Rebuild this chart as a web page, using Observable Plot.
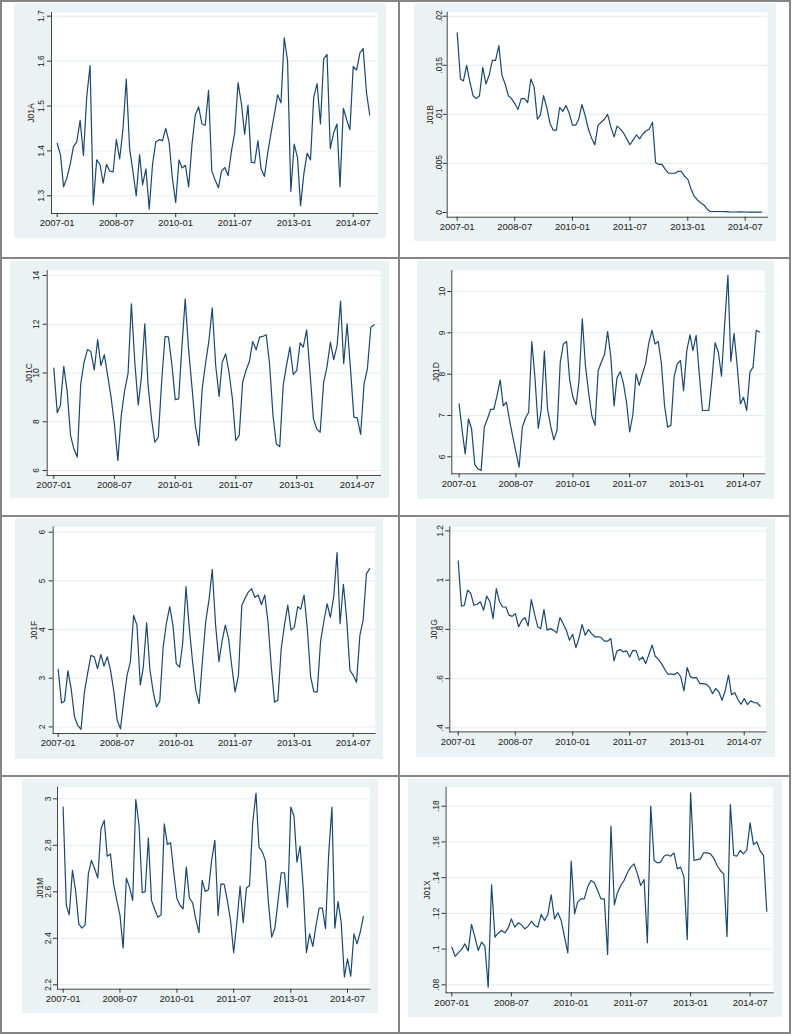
<!DOCTYPE html>
<html><head><meta charset="utf-8">
<script src="https://cdn.jsdelivr.net/npm/d3@7"></script>
<script src="https://cdn.jsdelivr.net/npm/@observablehq/plot@0.6"></script>
<style>
body{margin:0;background:#fff;}
#page{position:relative;width:792px;height:1034px;overflow:hidden;background:#fff;font-family:"Liberation Sans",Arial,sans-serif;}
.panel{position:absolute;}
.panel svg{display:block;}
.vline{position:absolute;top:0;height:1034px;width:2px;background:#858585;}
.hline{position:absolute;left:0;width:791px;height:2px;background:#858585;}
</style></head><body><div id="page"></div>
<script>
// ---- categories ----
const startMonth = new Date(Date.UTC(2007, 0, 1));
const endMonth = new Date(Date.UTC(2015, 0, 1));
const months = d3.utcMonth.range(startMonth, endMonth); // 2007-01 .. 2014-12
const xTickLabels = ["2007-01", "2008-07", "2010-01", "2011-07", "2013-01", "2014-07"];

// ---- series values ----
const J01A = [1.417,1.39,1.32,1.34,1.37,1.41,1.42,1.468,1.39,1.52,1.59,1.28,
1.38,1.37,1.328,1.37,1.355,1.353,1.425,1.382,1.45,1.56,1.405,1.355,
1.30,1.392,1.325,1.36,1.27,1.37,1.42,1.425,1.423,1.45,1.42,1.34,
1.285,1.38,1.362,1.368,1.32,1.415,1.48,1.498,1.46,1.457,1.535,1.355,
1.335,1.318,1.355,1.363,1.345,1.40,1.44,1.552,1.505,1.437,1.502,1.375,
1.373,1.423,1.36,1.343,1.395,1.44,1.48,1.525,1.507,1.652,1.60,1.31,
1.415,1.385,1.278,1.35,1.395,1.38,1.52,1.55,1.46,1.605,1.615,1.405,
1.44,1.46,1.32,1.495,1.47,1.447,1.588,1.58,1.618,1.628,1.53,1.48];

const J01B = [.0183,.0136,.0134,.0150,.0133,.0119,.0116,.0119,.0148,.0131,.0140,.0155,
.0155,.0170,.0140,.0131,.0119,.0116,.0111,.0105,.0116,.0116,.0112,.0136,
.0128,.0095,.0099,.0119,.0107,.0091,.0084,.0084,.0107,.0103,.0109,.0101,
.0089,.0089,.0095,.0110,.0099,.0085,.0076,.0069,.0089,.0092,.0095,.0100,
.0087,.0077,.0088,.0085,.0081,.0075,.0069,.0074,.0079,.0075,.0080,.0083,
.0085,.0092,.0051,.0049,.0049,.0044,.0040,.0040,.0040,.0042,.0042,.0037,
.0034,.0024,.0017,.0013,.0010,.0008,.0004,.0001,.0001,.0001,.0001,.0001,
.00008,.00006,.00005,.00005,.00006,.00007,.00005,.00004,.00004,.00003,.00003,.00003];

const J01C = [10.2,8.37,8.67,10.27,9.28,7.44,6.89,6.55,9.56,10.44,10.96,10.88,
10.13,11.37,10.31,10.75,9.9,9.0,7.9,6.41,8.26,9.28,9.97,12.84,
10.44,8.69,9.79,12.02,9.49,8.12,7.16,7.37,9.69,11.5,11.47,10.38,
8.91,8.94,11.0,13.04,10.99,9.42,7.85,7.03,9.35,10.38,11.33,12.67,
10.31,9.04,10.44,10.79,10.03,8.94,7.23,7.44,9.62,10.1,10.47,11.29,
10.95,11.47,11.5,11.57,10.38,8.26,7.09,6.98,9.49,10.31,11.06,9.94,
10.1,11.24,11.06,11.77,10.03,8.12,7.71,7.57,9.62,10.24,11.26,10.55,
11.13,12.95,10.38,12.02,10.2,8.19,8.16,7.48,9.56,10.17,11.88,11.98];

const J01D = [7.28,6.6,6.07,6.92,6.68,5.81,5.71,5.67,6.72,6.92,7.15,7.15,
7.48,7.86,7.23,7.32,6.88,6.48,6.11,5.75,6.72,6.94,7.08,8.79,
7.89,6.69,7.12,8.56,7.16,6.74,6.41,6.64,8.29,8.73,8.79,7.85,
7.44,7.26,7.85,9.34,8.21,7.56,7.0,6.76,8.09,8.29,8.48,9.03,
8.41,7.23,7.91,8.06,7.79,7.32,6.6,7.02,8.01,7.73,8.01,8.25,
8.75,9.06,8.73,8.79,8.27,7.24,6.72,6.76,7.93,8.25,8.33,7.6,
8.57,8.95,8.57,8.94,8.01,7.12,7.12,7.12,7.9,8.76,8.53,7.95,
9.22,10.39,8.31,8.98,8.21,7.28,7.44,7.12,8.05,8.17,9.06,9.02];

const J01F = [3.18,2.49,2.53,3.15,2.79,2.21,2.03,1.95,2.71,3.1,3.47,3.44,
3.2,3.49,3.25,3.44,3.16,2.72,2.14,1.96,2.55,3.06,3.34,4.29,
4.09,2.86,3.23,4.14,3.18,2.72,2.41,2.53,3.64,4.12,4.47,4.09,
3.3,3.23,3.71,4.88,4.05,3.34,2.75,2.48,3.37,4.16,4.62,5.23,
4.09,3.34,3.75,4.09,3.82,3.23,2.72,3.06,4.5,4.64,4.77,4.84,
4.66,4.71,4.51,4.71,4.16,3.23,2.51,2.55,3.61,4.09,4.5,3.99,
4.05,4.47,4.42,4.71,4.02,3.03,2.72,2.72,3.75,4.16,4.53,4.25,
4.67,5.58,4.12,4.93,4.23,3.16,3.06,2.92,3.88,4.19,5.15,5.25];

const J01G = [1.078,0.894,0.898,0.959,0.946,0.898,0.902,0.912,0.878,0.935,0.912,0.844,
0.966,0.912,0.891,0.891,0.858,0.853,0.864,0.81,0.837,0.848,0.814,0.921,
0.862,0.81,0.803,0.881,0.797,0.803,0.797,0.786,0.848,0.824,0.797,0.756,
0.78,0.726,0.763,0.82,0.776,0.799,0.783,0.77,0.77,0.767,0.752,0.752,
0.763,0.672,0.713,0.718,0.709,0.713,0.688,0.715,0.713,0.675,0.688,0.661,
0.699,0.736,0.691,0.678,0.661,0.637,0.618,0.618,0.617,0.625,0.607,0.55,
0.645,0.607,0.603,0.604,0.58,0.58,0.577,0.566,0.539,0.56,0.546,0.512,
0.553,0.614,0.535,0.543,0.516,0.496,0.519,0.495,0.51,0.503,0.502,0.488];

const J01M = [2.964,2.541,2.501,2.692,2.606,2.462,2.444,2.458,2.677,2.735,2.699,2.659,
2.871,2.907,2.753,2.763,2.634,2.563,2.501,2.358,2.659,2.62,2.563,2.997,
2.885,2.596,2.601,2.831,2.563,2.524,2.491,2.501,2.892,2.804,2.811,2.685,
2.57,2.541,2.527,2.706,2.573,2.553,2.484,2.424,2.649,2.601,2.61,2.735,
2.821,2.498,2.634,2.632,2.563,2.477,2.338,2.47,2.624,2.467,2.616,2.627,
2.9,3.024,2.792,2.773,2.735,2.548,2.405,2.444,2.563,2.682,2.682,2.534,
2.964,2.925,2.728,2.796,2.613,2.338,2.419,2.365,2.455,2.53,2.53,2.441,
2.763,2.964,2.444,2.558,2.47,2.233,2.312,2.237,2.419,2.376,2.427,2.494];

const J01X = [.1011,.0960,.0979,.0998,.1029,.0990,.1138,.1067,.0992,.1039,.1016,.0787,
.1360,.1067,.1089,.1104,.1091,.1117,.1169,.1123,.1147,.1136,.1113,.1128,
.1156,.1132,.1123,.1194,.1160,.1194,.1304,.1169,.1203,.1160,.1067,.0979,
.1492,.1197,.1263,.1281,.1281,.1347,.1384,.1371,.1328,.1281,.1281,.0970,
.1688,.1248,.1315,.1356,.1384,.1427,.1459,.1477,.1421,.1356,.1390,.1035,
.1800,.1496,.1483,.1487,.1520,.1528,.1520,.1539,.1449,.1459,.1403,.1054,
.1875,.1496,.1501,.1505,.1539,.1539,.1533,.1510,.1468,.1440,.1420,.1070,
.1809,.1524,.1520,.1552,.1533,.1555,.1707,.1585,.1600,.1550,.1525,.1212];

// ---- y tick values and labels ----
const ticksJ01A = [1.3,1.4,1.5,1.6,1.7];        const labelsJ01A = ["1.3","1.4","1.5","1.6","1.7"];
const ticksJ01B = [0,.005,.01,.015,.02];         const labelsJ01B = ["0",".005",".01",".015",".02"];
const ticksJ01C = [6,8,10,12,14];                const labelsJ01C = ["6","8","10","12","14"];
const ticksJ01D = [6,7,8,9,10];                  const labelsJ01D = ["6","7","8","9","10"];
const ticksJ01F = [2,3,4,5,6];                   const labelsJ01F = ["2","3","4","5","6"];
const ticksJ01G = [.4,.6,.8,1,1.2];              const labelsJ01G = [".4",".6",".8","1","1.2"];
const ticksJ01M = [2.2,2.4,2.6,2.8,3];           const labelsJ01M = ["2.2","2.4","2.6","2.8","3"];
const ticksJ01X = [.08,.1,.12,.14,.16,.18];      const labelsJ01X = [".08",".1",".12",".14",".16",".18"];

// ---- layout (pixel geometry of each Stata graph region) ----
const panels = [
  {name:"J01A", values:J01A, ticks:ticksJ01A, labels:labelsJ01A, left:14, top:3, w:372, h:235, ml:37, mr:9, mt:9, mb:25, xr:[42.7,338.7], yr:[192.3,12.7], tdx:-20, ldx:-10},
  {name:"J01B", values:J01B, ticks:ticksJ01B, labels:labelsJ01B, left:414, top:3, w:362, h:238, ml:32.7, mr:9, mt:8.7, mb:24.3, xr:[42.7,330.7], yr:[209,12.7], tdx:-17.4, ldx:-7.5},
  {name:"J01C", values:J01C, ticks:ticksJ01C, labels:labelsJ01C, left:10, top:261, w:379, h:237, ml:36.7, mr:9, mt:9, mb:23, xr:[43.3,346.7], yr:[209,14], tdx:-18.4, ldx:-10.5},
  {name:"J01D", values:J01D, ticks:ticksJ01D, labels:labelsJ01D, left:416.7, top:261, w:357, h:238, ml:34.3, mr:9.7, mt:9, mb:25.7, xr:[41.6,326], yr:[195.3,30], tdx:-15.7, ldx:-10},
  {name:"J01F", values:J01F, ticks:ticksJ01F, labels:labelsJ01F, left:15, top:518.3, w:368, h:241, ml:37.7, mr:8.3, mt:8.4, mb:26, xr:[42.7,337.7], yr:[208.4,13.7], tdx:-19.4, ldx:-10.5},
  {name:"J01G", values:J01G, ticks:ticksJ01G, labels:labelsJ01G, left:416, top:518.3, w:359, h:239, ml:33.3, mr:9.3, mt:8.4, mb:25.6, xr:[41.7,327.7], yr:[209.4,12.4], tdx:-15.6, ldx:-9.5},
  {name:"J01M", values:J01M, ticks:ticksJ01M, labels:labelsJ01M, left:21.7, top:779, w:356, h:234, ml:35, mr:8.7, mt:7.7, mb:24.3, xr:[40.6,325], yr:[205.3,19.3], tdx:-17.4, ldx:-9.5},
  {name:"J01X", values:J01X, ticks:ticksJ01X, labels:labelsJ01X, left:407.7, top:779, w:374, h:238, ml:37.6, mr:9.3, mt:7.7, mb:24.7, xr:[43.3,341.6], yr:[205.3,26.7], tdx:-18.6, ldx:-9.5}
];

const page = document.getElementById("page");
const parseMonth = d3.utcParse("%Y-%m");
const xTicks = xTickLabels.map(parseMonth);

for (const p of panels) {
  const data = months.map((d, i) => ({date: d, value: p.values[i]}));
  const tickRows = p.ticks.map((v, i) => ({v, label: p.labels[i]}));
  const chart = Plot.plot({
    width: p.w, height: p.h,
    marginLeft: p.ml, marginRight: p.mr, marginTop: p.mt, marginBottom: p.mb,
    style: {background: "#EAF2F3", overflow: "visible", fontFamily: "'Liberation Sans', Arial, sans-serif", color: "#1a1a1a"},
    x: {type: "utc", domain: [xTicks[0], xTicks[xTicks.length - 1]], range: p.xr},
    y: {type: "linear", domain: [p.ticks[0], p.ticks[p.ticks.length - 1]], range: p.yr},
    marks: [
      Plot.frame({fill: "white", stroke: null}),
      Plot.gridY(p.ticks, {stroke: "#E4ECEE", strokeOpacity: 1, strokeWidth: 1}),
      Plot.frame({anchor: "left", stroke: "#333", strokeWidth: 0.9}),
      Plot.frame({anchor: "bottom", stroke: "#333", strokeWidth: 0.9}),
      Plot.axisX(xTicks, {tickSize: 4, tickPadding: 2, tickFormat: (d, i) => xTickLabels[i], fontSize: 9.5, stroke: "#333"}),
      Plot.axisY(p.ticks, {tickSize: 4, tickFormat: () => "", stroke: "#333"}),
      Plot.text(tickRows, {y: "v", text: "label", frameAnchor: "left", dx: p.ldx, rotate: -90, fontSize: 8.5, textAnchor: "middle", lineAnchor: "middle", fill: "#1a1a1a"}),
      Plot.text([p.name], {frameAnchor: "left", dx: p.tdx, rotate: -90, fontSize: 8.5, text: d => d, textAnchor: "middle", lineAnchor: "middle", fill: "#1a1a1a"}),
      Plot.line(data, {x: "date", y: "value", stroke: "#1A476F", strokeWidth: 1.2})
    ]
  });
  const div = document.createElement("div");
  div.className = "panel";
  div.style.left = p.left + "px";
  div.style.top = p.top + "px";
  div.appendChild(chart);
  page.appendChild(div);
}

// table borders
for (const x of [0, 397.5, 789]) {
  const d = document.createElement("div"); d.className = "vline"; d.style.left = x + "px"; page.appendChild(d);
}
for (const y of [0, 257.3, 514.5, 775, 1031.5]) {
  const d = document.createElement("div"); d.className = "hline"; d.style.top = y + "px"; page.appendChild(d);
}
</script></body></html>
